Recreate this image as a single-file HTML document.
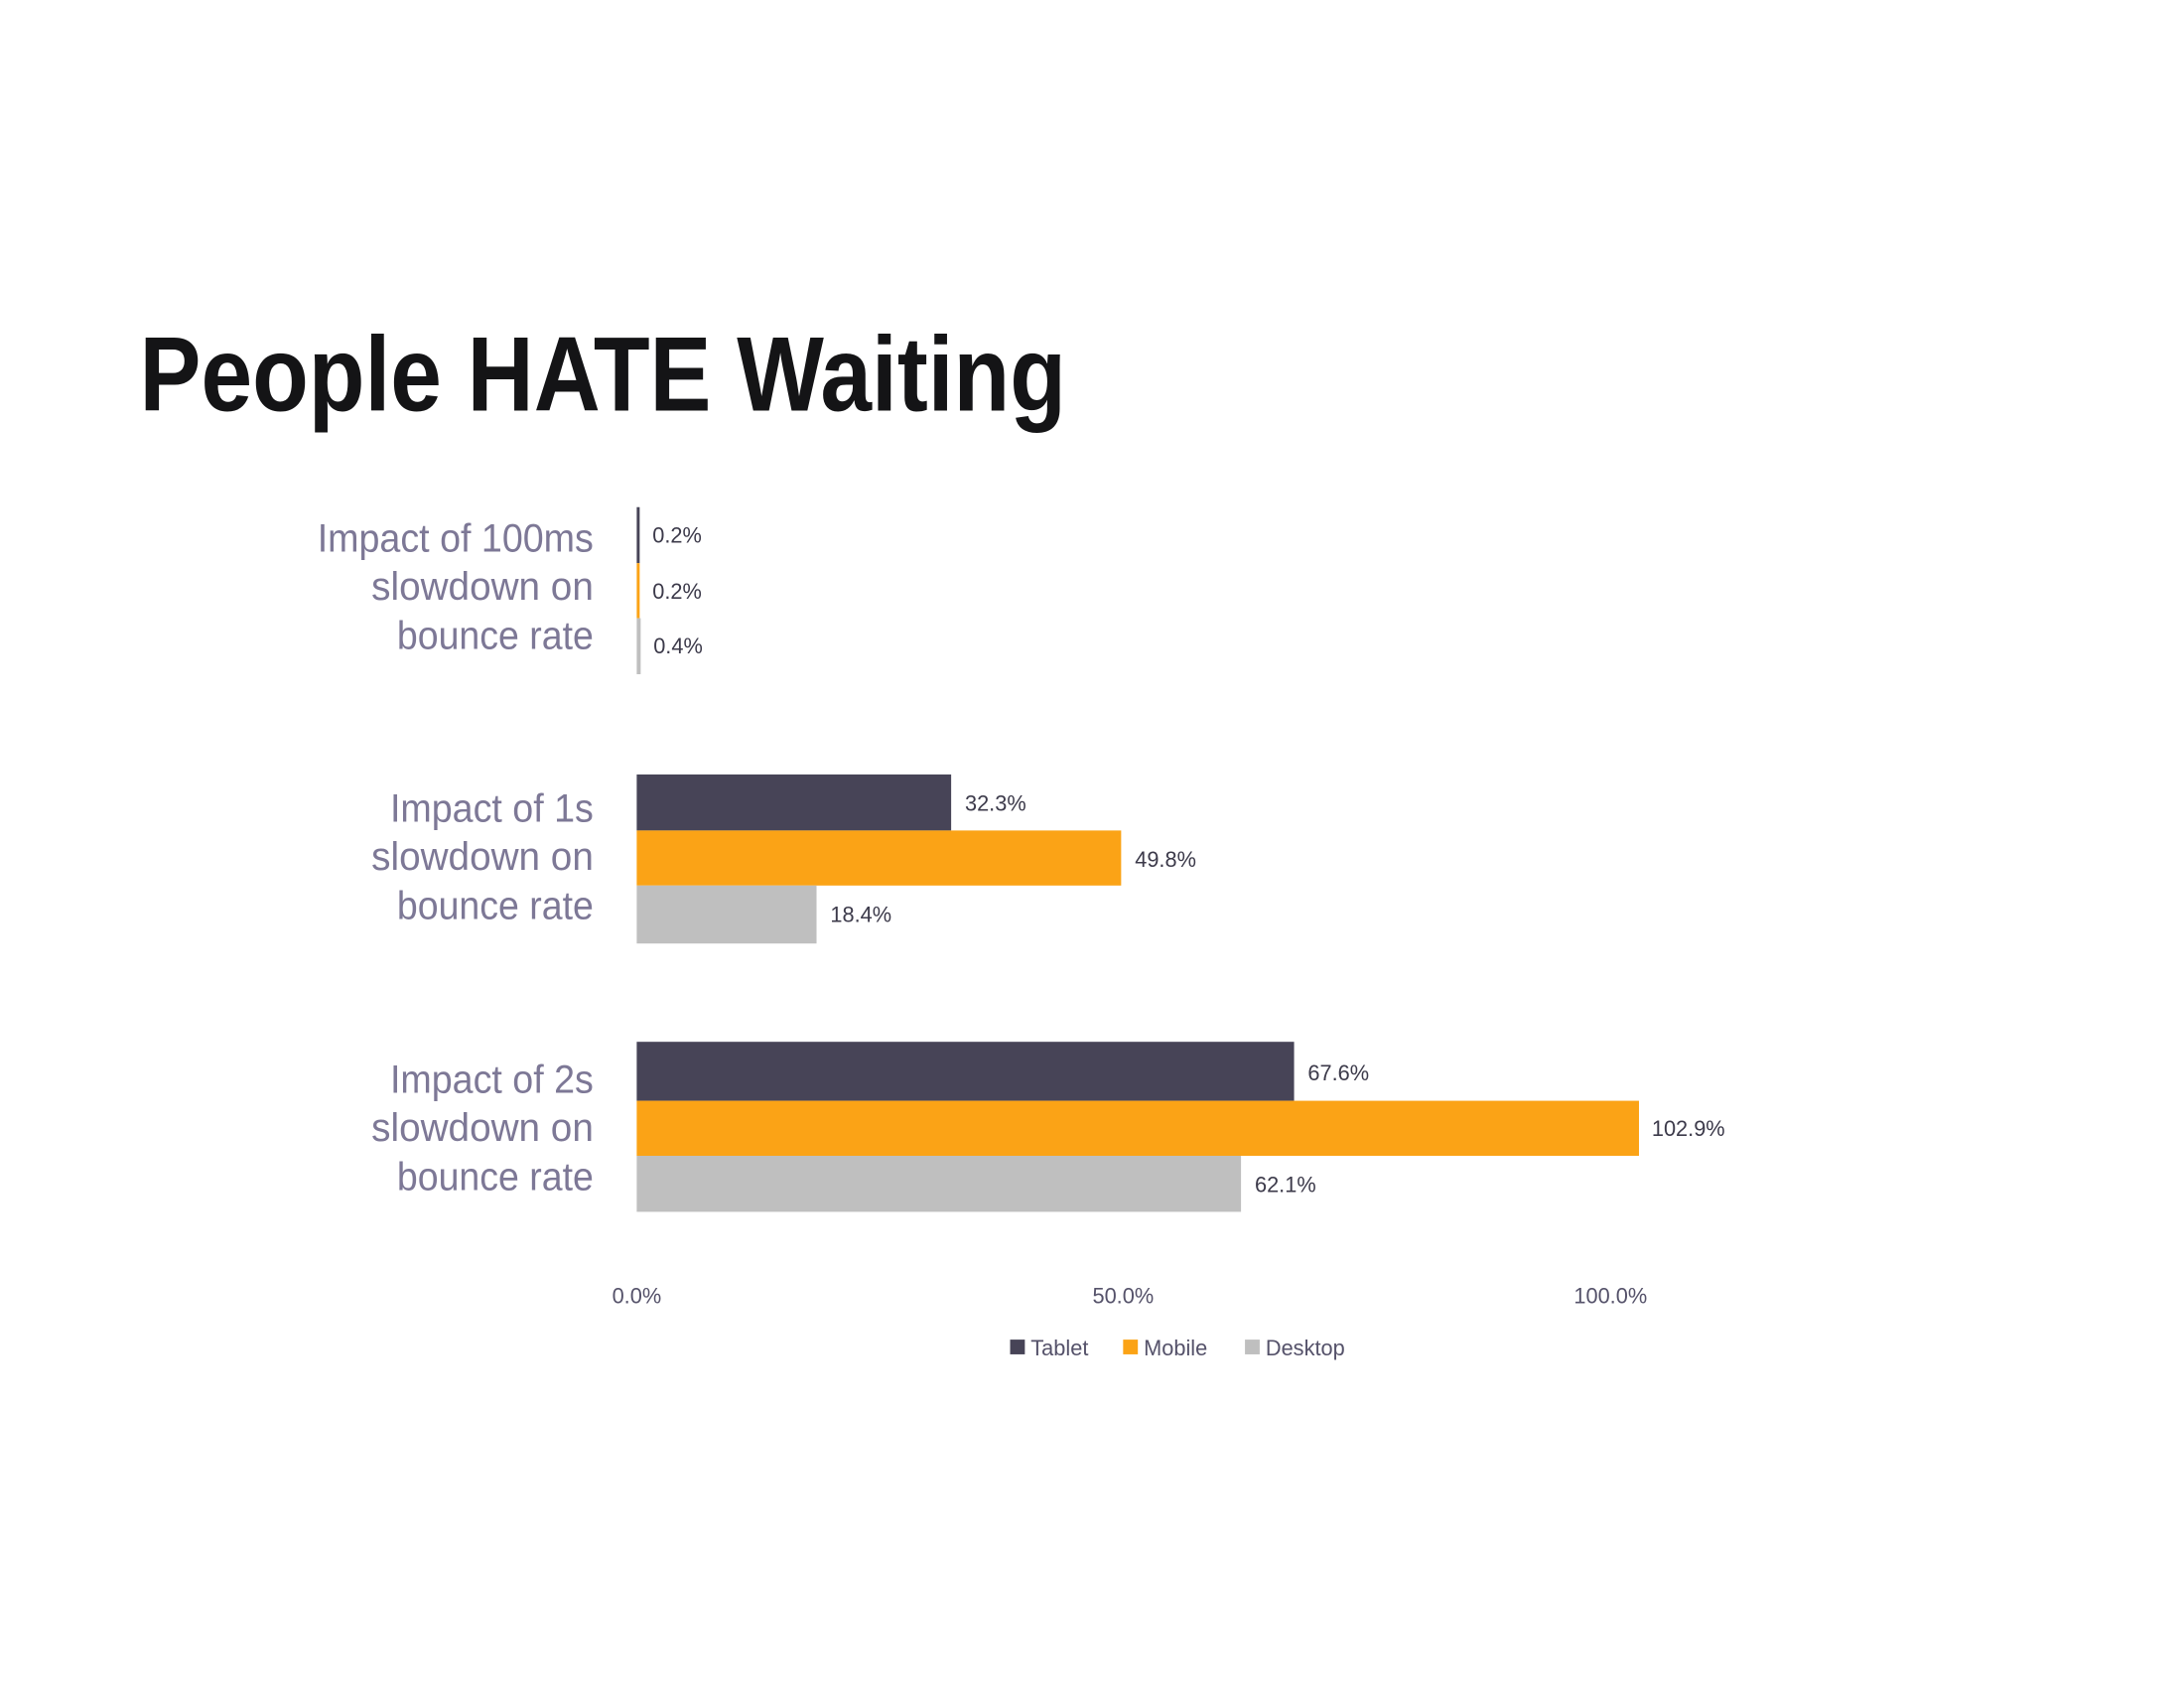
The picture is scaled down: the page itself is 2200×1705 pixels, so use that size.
<!DOCTYPE html>
<html><head><meta charset="utf-8"><style>html,body{margin:0;padding:0;background:#fff}</style></head>
<body>
<svg width="2200" height="1700" viewBox="0 0 2200 1700" xmlns="http://www.w3.org/2000/svg" font-family="Liberation Sans, sans-serif">
<rect width="2200" height="1700" fill="#fff"/>
<g transform="scale(0.9898)">
<text x="142" y="418" font-size="108" font-weight="bold" fill="#141416" textLength="943" lengthAdjust="spacingAndGlyphs">People HATE Waiting</text>
<g font-size="40" fill="#7d7896" text-anchor="end">
<text x="604" y="561" textLength="281" lengthAdjust="spacingAndGlyphs">Impact of 100ms</text>
<text x="604" y="610" textLength="226" lengthAdjust="spacingAndGlyphs">slowdown on</text>
<text x="604" y="660" textLength="200" lengthAdjust="spacingAndGlyphs">bounce rate</text>
<text x="604" y="836" textLength="207" lengthAdjust="spacingAndGlyphs">Impact of 1s</text>
<text x="604" y="885" textLength="226" lengthAdjust="spacingAndGlyphs">slowdown on</text>
<text x="604" y="935" textLength="200" lengthAdjust="spacingAndGlyphs">bounce rate</text>
<text x="604" y="1112" textLength="207" lengthAdjust="spacingAndGlyphs">Impact of 2s</text>
<text x="604" y="1161" textLength="226" lengthAdjust="spacingAndGlyphs">slowdown on</text>
<text x="604" y="1211" textLength="200" lengthAdjust="spacingAndGlyphs">bounce rate</text>
</g>
<rect x="648" y="516" width="3" height="57" fill="#474457"/>
<rect x="648" y="573" width="3" height="56" fill="#fba316"/>
<rect x="648" y="629" width="4" height="57" fill="#bfbfbf"/>
<rect x="648" y="788" width="320" height="57" fill="#474457"/>
<rect x="648" y="845" width="493" height="56" fill="#fba316"/>
<rect x="648" y="901" width="183" height="59" fill="#bfbfbf"/>
<rect x="648" y="1060" width="669" height="60" fill="#474457"/>
<rect x="648" y="1120" width="1020" height="56" fill="#fba316"/>
<rect x="648" y="1176" width="615" height="57" fill="#bfbfbf"/>
<g font-size="22" fill="#3c3a4a">
<text x="664" y="552">0.2%</text>
<text x="664" y="609">0.2%</text>
<text x="665" y="665">0.4%</text>
<text x="982" y="825">32.3%</text>
<text x="1155" y="882">49.8%</text>
<text x="845" y="938">18.4%</text>
<text x="1331" y="1099">67.6%</text>
<text x="1681" y="1156">102.9%</text>
<text x="1277" y="1213">62.1%</text>
</g>
<g font-size="22" fill="#55526a" text-anchor="middle">
<text x="648" y="1326">0.0%</text>
<text x="1143" y="1326">50.0%</text>
<text x="1639" y="1326">100.0%</text>
</g>
<rect x="1028" y="1363" width="15" height="15" fill="#474457"/>
<text x="1049" y="1379" font-size="22" fill="#55526a">Tablet</text>
<rect x="1143" y="1363" width="15" height="15" fill="#fba316"/>
<text x="1164" y="1379" font-size="22" fill="#55526a">Mobile</text>
<rect x="1267" y="1363" width="15" height="15" fill="#bfbfbf"/>
<text x="1288" y="1379" font-size="22" fill="#55526a">Desktop</text>
</g>
</svg>
</body></html>
